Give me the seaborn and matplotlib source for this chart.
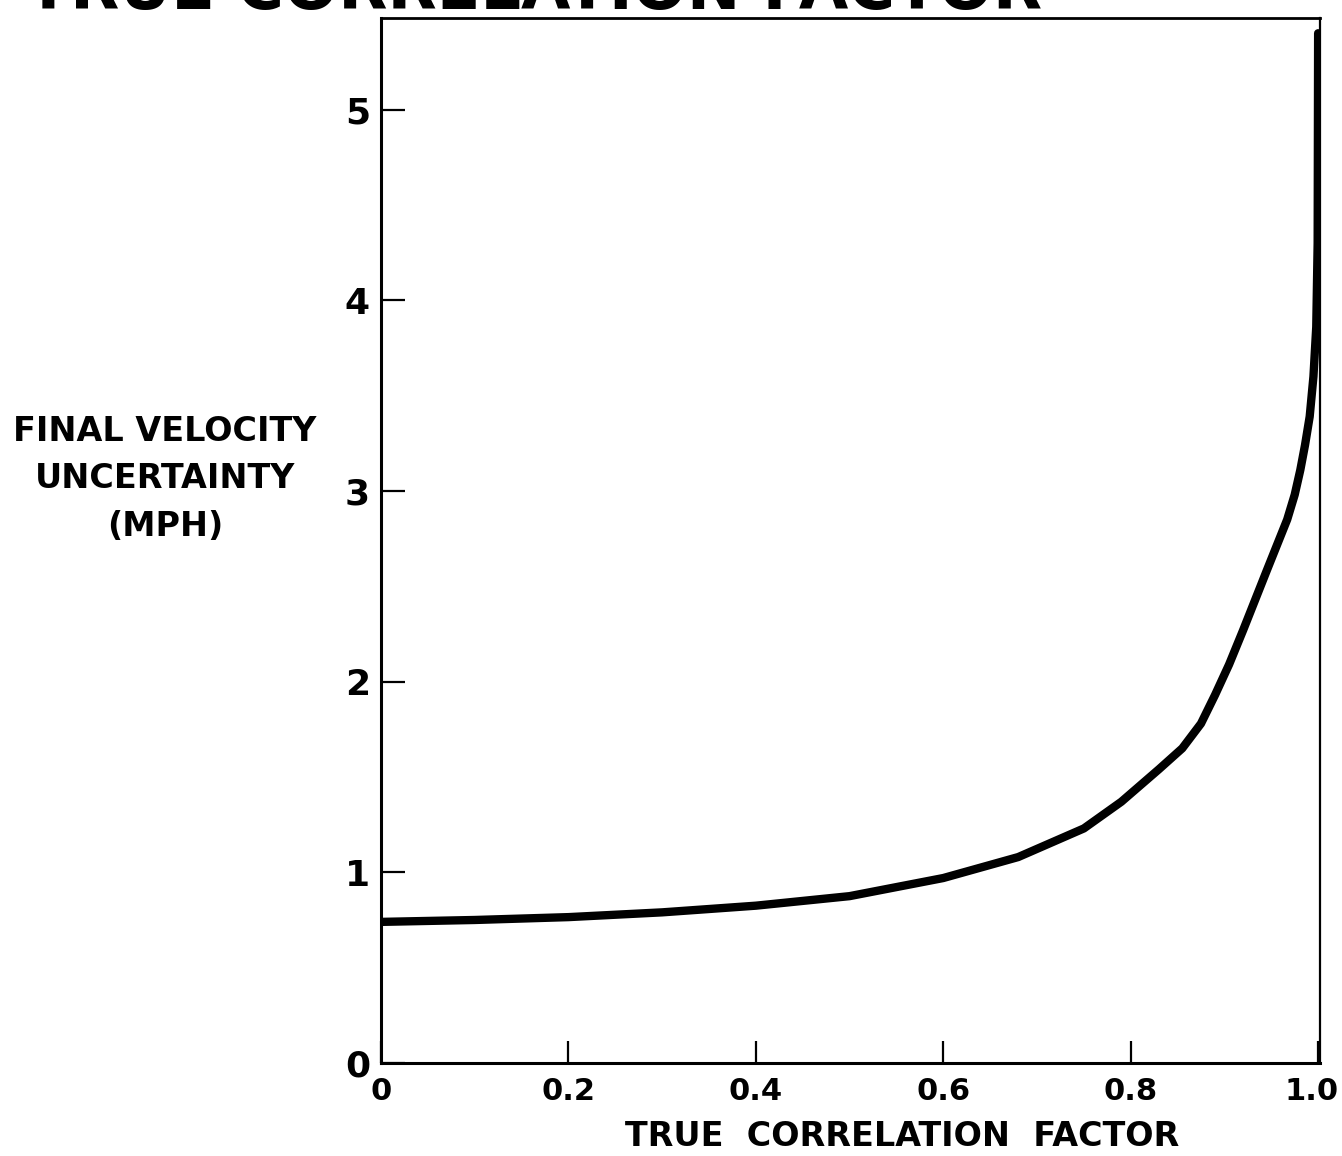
import numpy as np
import pandas as pd
import matplotlib
matplotlib.use("Agg")
import matplotlib.pyplot as plt
import matplotlib.transforms as mtransforms
import seaborn as sns

# Valores (curva)
correlacao = [0.0, 0.1, 0.2, 0.3, 0.4, 0.5, 0.6, 0.68, 0.75, 0.79, 0.83, 0.855,
              0.875, 0.89, 0.905, 0.92, 0.945, 0.967, 0.975, 0.981, 0.986, 0.991,
              0.995, 0.998, 0.9995, 1.0]
incerteza = [0.74, 0.75, 0.765, 0.79, 0.825, 0.875, 0.97, 1.08, 1.23, 1.37, 1.54, 1.65,
             1.78, 1.93, 2.09, 2.27, 2.58, 2.85, 2.98, 3.11, 3.24, 3.39,
             3.60, 3.86, 4.30, 5.40]

x_ticks = [0, 0.2, 0.4, 0.6, 0.8, 1.0]
x_labels = ["0", "0.2", "0.4", "0.6", "0.8", "1.0"]
y_ticks = [0, 1, 2, 3, 4, 5]
y_labels = ["0", "1", "2", "3", "4", "5"]

df = pd.DataFrame({"correlacao": correlacao, "incerteza": incerteza})

sns.set_style("ticks")
plt.rcParams['font.family'] = ['DejaVu Sans']
plt.rcParams['text.color'] = 'black'

fig = plt.figure(figsize=(13.42, 11.56), dpi=100)
ax = fig.add_axes([381 / 1342, 93 / 1156, (1320 - 381) / 1342, (1063 - 18) / 1156])

sns.lineplot(data=df, x="correlacao", y="incerteza", sort=False, estimator=None,
             color="black", linewidth=6.0, ax=ax, solid_joinstyle="round")

ax.set_xlim(0, 1.002)
ax.set_ylim(0, 5.48)
ax.set_xticks(x_ticks)
ax.set_xticklabels(x_labels, fontsize=22, fontweight="bold")
ax.set_yticks(y_ticks)
ax.set_yticklabels(y_labels, fontsize=26, fontweight="bold")
ax.tick_params(axis="x", direction="in", length=16, width=1.6, pad=10, colors="black")
ax.tick_params(axis="y", direction="in", length=17, width=1.6, pad=8, colors="black")

# o rótulo "1.0" fica encostado na borda, puxar um pouco para a esquerda
ultimo = ax.get_xticklabels()[-1]
ultimo.set_transform(ultimo.get_transform() + mtransforms.ScaledTranslation(-5 / 72, 0, fig.dpi_scale_trans))

for lado, lw in [("left", 2.2), ("bottom", 2.2), ("top", 2.0), ("right", 1.6)]:
    ax.spines[lado].set_visible(True)
    ax.spines[lado].set_linewidth(lw)
    ax.spines[lado].set_color("black")

ax.set_xlabel("")
ax.set_ylabel("")

fig.text(902 / 1342, 1 - 1137 / 1156, "TRUE  CORRELATION  FACTOR", ha="center", va="center",
         fontsize=24, fontweight="bold", color="black")
fig.text(165 / 1342, 1 - 479 / 1156, "FINAL VELOCITY\nUNCERTAINTY\n(MPH)", ha="center",
         va="center", fontsize=24, fontweight="bold", linespacing=1.55, color="black")

# titulo cortado no topo (como no original)
fig.text(1042 / 1342, 1 - 9 / 1156, "VS TRUE CORRELATION FACTOR", ha="right", va="baseline",
         fontsize=46, fontweight="bold", color="black")

plt.savefig("out.png", dpi=100)
plt.close()
